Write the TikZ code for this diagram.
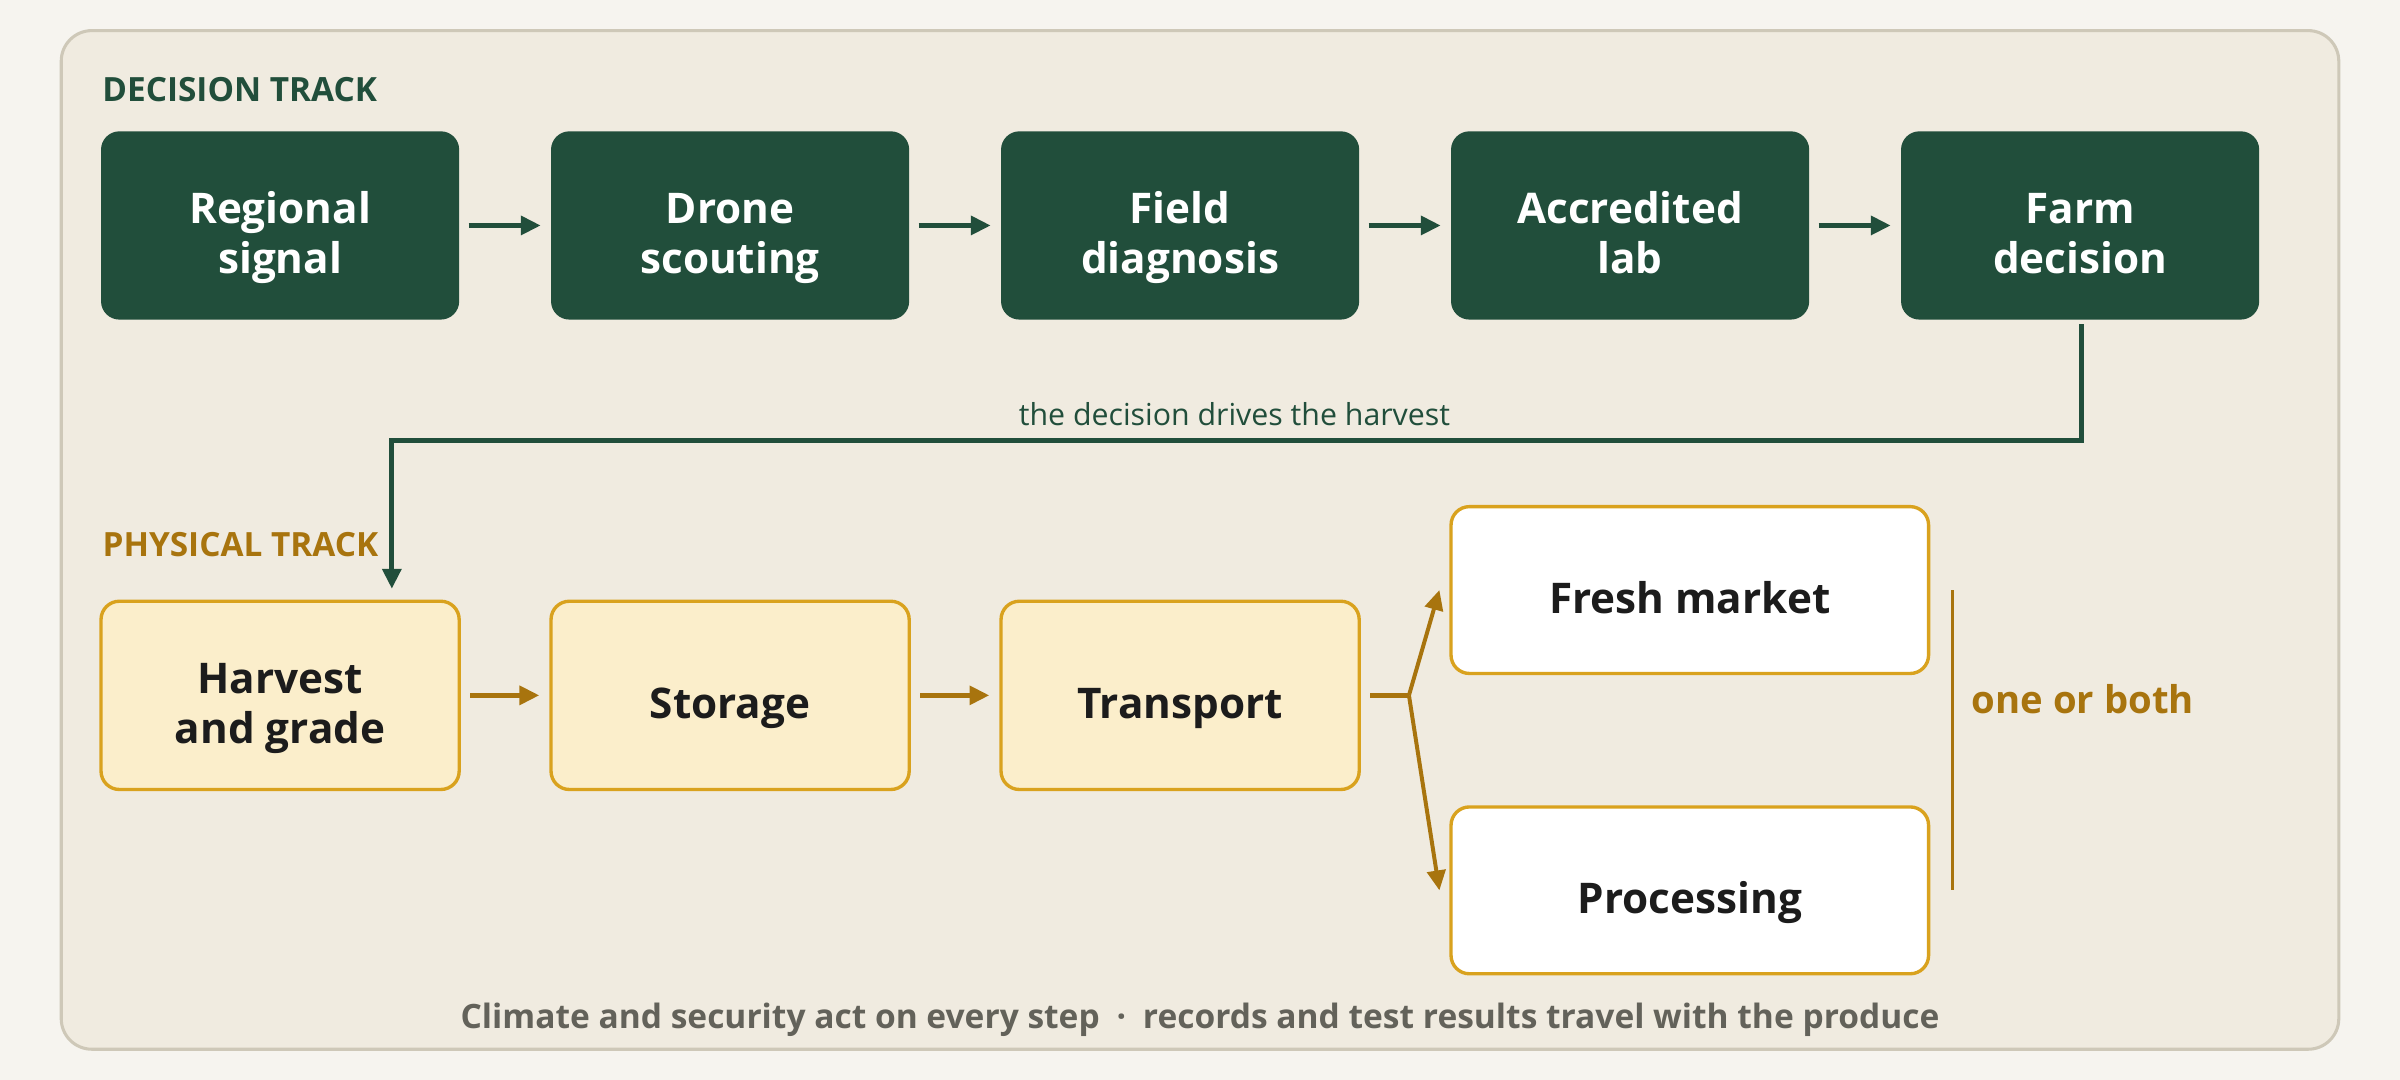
\documentclass[tikz,border=0pt]{standalone}
\usepackage{fontspec}
\setmainfont{Open Sans}
\usetikzlibrary{arrows.meta,calc}
\definecolor{bgc}{HTML}{F6F4EF}
\definecolor{panelc}{HTML}{F0EBE0}
\definecolor{panelb}{HTML}{CEC8B8}
\definecolor{dgreen}{HTML}{214E3B}
\definecolor{goldc}{HTML}{D9A21E}
\definecolor{brownc}{HTML}{A8740E}
\definecolor{creamc}{HTML}{FBEECB}
\definecolor{inkc}{HTML}{1C1C1C}
\definecolor{grayc}{HTML}{63625A}
\newcommand\topstrut{\rule{0pt}{37pt}}
\newcommand\botstrut{\rule[-7pt]{0pt}{0pt}}
\begin{document}
\begin{tikzpicture}[x=1pt,y=-1pt,
  boxbase/.style={rectangle,rounded corners=12pt,align=center,inner sep=0pt,
    font=\fontsize{27.6}{33}\selectfont\bfseries},
  dbox/.style={boxbase,fill=dgreen,text=white,minimum width=234pt,minimum height=123pt},
  pbox/.style={boxbase,fill=creamc,draw=goldc,line width=2.2pt,text=inkc,minimum width=234pt,minimum height=123pt},
  obox/.style={boxbase,fill=white,draw=goldc,line width=2.2pt,text=inkc,minimum width=312pt,minimum height=109pt},
  garrow/.style={draw=dgreen,line width=3.3pt,-{Triangle[length=13pt,width=12pt]}},
  barrow/.style={draw=brownc,line width=3.3pt,-{Triangle[length=13pt,width=12pt]}},
  heading/.style={anchor=base west,font=\fontsize{21.8}{24}\selectfont\bfseries,inner sep=0pt}
]
% background and panel
\fill[bgc] (0,0) rectangle (1568,705.6);
\useasboundingbox (0,0) rectangle (1568,705.6);
\draw[fill=panelc,draw=panelb,line width=2pt,rounded corners=20pt] (40,20) rectangle (1528,685.5);

% headings
\node[heading,text=dgreen] (hd) at (66.7,66.4) {DECISION TRACK};
\node[heading,text=brownc] (hp) at (66.8,363.7) {PHYSICAL TRACK};

% decision track
\node[dbox] (d1) at (183,147.3) {\topstrut Regional\\signal\botstrut};
\node[dbox] (d2) at (477,147.3) {\topstrut Drone\\scouting\botstrut};
\node[dbox] (d3) at (771,147.3) {\topstrut Field\\diagnosis\botstrut};
\node[dbox] (d4) at (1065,147.3) {\topstrut Accredited\\lab\botstrut};
\node[dbox] (d5) at (1359,147.3) {\topstrut Farm\\decision\botstrut};
\foreach \a/\b in {d1/d2,d2/d3,d3/d4,d4/d5}
  \draw[garrow,shorten <=6pt,shorten >=6.5pt] (\a) -- (\b);

% physical track
\node[pbox] (p1) at (183,454.3) {\topstrut Harvest\\and grade\botstrut};
\node[pbox] (p2) at (477,454.3) {\topstrut Storage\botstrut};
\node[pbox] (p3) at (771,454.3) {\topstrut Transport\botstrut};
\foreach \a/\b in {p1/p2,p2/p3}
  \draw[barrow,shorten <=6pt,shorten >=6.5pt] (\a) -- (\b);

\node[obox] (o1) at (1104,385.5) {\topstrut Fresh market\botstrut};
\node[obox] (o2) at (1104,581.7) {\topstrut Processing\botstrut};

% decision drives harvest
\coordinate (bend) at (256,288);
\draw[garrow,shorten <=3pt,shorten >=7pt] ($(d5.south)+(1,0)$) |- (bend) -- (bend |- p1.north);
\node[anchor=base,text=dgreen,font=\fontsize{19.8}{22}\selectfont,inner sep=0pt] (lbl) at (806.5,277.7) {the decision drives the harvest};

% fork
\coordinate (fork) at (920.5,454.3);
\coordinate (o1in) at ($(o1.west)+(-6.5,0)$);
\coordinate (o2in) at ($(o2.west)+(-6.5,0)$);
\draw[draw=brownc,line width=3.3pt,shorten <=6pt] (p3.east) -- (fork);
\draw[barrow,line width=2.6pt,line join=round] (fork) -- (o1in);
\draw[barrow,line width=2.6pt,line join=round] (fork) -- (o2in);

% one or both
\coordinate (bt) at (1275.7,385.5);
\coordinate (bb) at (1275.7,581.6);
\draw[brownc,line width=2.2pt] (bt) -- (bb);
\node[anchor=base west,text=brownc,font=\fontsize{25}{28}\selectfont\bfseries,inner sep=0pt] (ob) at (1288,466.4) {one or both};

% footer
\node[anchor=base,text=grayc,font=\fontsize{21.9}{24}\selectfont\bfseries,inner sep=0pt] (ft) at (784,671.7)
  {Climate and security act on every step\hspace{11pt}·\hspace{11pt}records and test results travel with the produce};
\end{tikzpicture}
\end{document}
